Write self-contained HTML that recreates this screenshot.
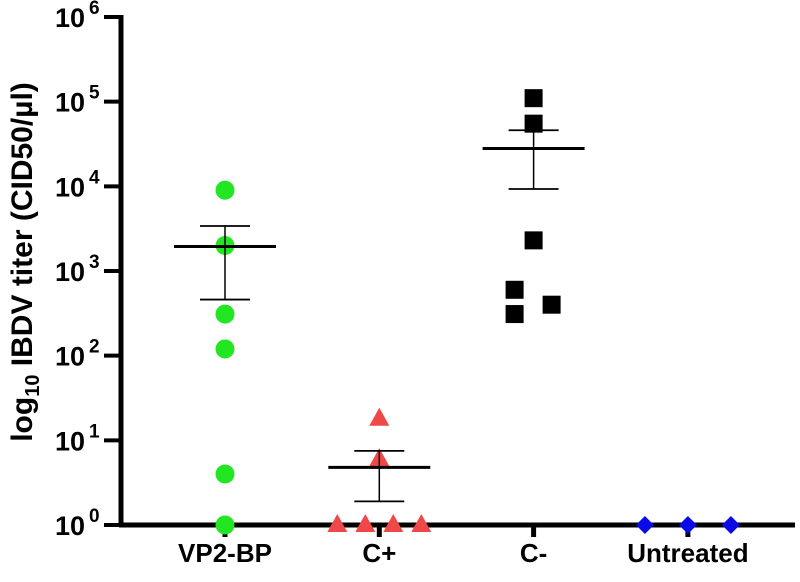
<!DOCTYPE html>
<html><head><meta charset="utf-8"><style>
body{margin:0;background:#fff}
text{font-family:"Liberation Sans",Arial,sans-serif;font-weight:bold;fill:#000}
</style></head><body>
<svg width="800" height="577" xmlns="http://www.w3.org/2000/svg">
<g id="axes"></g>
<g id="marks"></g>
</svg>
<script>
const categories=["VP2-BP","C+","C-","Untreated"];
const vp2Values=[9000,2000,310,120,4,1];
const vp2Offsets=[0,0,0,0,0,0];
const cposValues=[18,6,1,1,1,1];
const cposOffsets=[0,0,-42,-14,14,42];
const cnegValues=[110000,55000,2300,600,310,400];
const cnegOffsets=[0,0,0,-19,-19,18];
const untreatedValues=[1,1,1];
const untreatedOffsets=[-43,0,43];
const means=[1950,4.8,28000,1];
const semUpper=[3400,7.5,46000,null];
const semLower=[460,1.9,9300,null];
const yTickExps=[0,1,2,3,4,5,6];

const NS="http://www.w3.org/2000/svg";
const axes=document.getElementById('axes'),marks=document.getElementById('marks');
const x0=121,xEnd=795,yTop=17,yBot=525;
function yScale(v){return yBot-(yBot-yTop)*Math.log10(v)/6;}
function xScale(i){return 225+i*154.3;}
function mk(p,tag,attrs){const e=document.createElementNS(NS,tag);for(const k in attrs)e.setAttribute(k,attrs[k]);p.appendChild(e);return e;}

let l=mk(axes,'line',{x1:x0,y1:yTop-2,x2:x0,y2:yBot+2,stroke:'#000','stroke-width':5});


l=mk(axes,'line',{x1:x0-2,y1:yBot,x2:xEnd,y2:yBot,stroke:'#000','stroke-width':5});


yTickExps.forEach(e=>{
  const y=yScale(Math.pow(10,e));
  const t=mk(axes,'line',{x1:x0-17,y1:y,x2:x0,y2:y,stroke:'#000','stroke-width':4});
  
  
  const tx=mk(axes,'text',{x:55,y:y+10,'font-size':27});
  
  
  tx.innerHTML='10<tspan dx="4" dy="-13" font-size="19">'+e+'</tspan>';
});
categories.forEach((c,i)=>{
  const x=xScale(i);
  const t=mk(axes,'line',{x1:x,y1:yBot,x2:x,y2:yBot+12,stroke:'#000','stroke-width':5});
  
  
  const tx=mk(axes,'text',{x:x,y:562,'text-anchor':'middle','font-size':26});
  
  
  tx.textContent=c;
});
const yl=mk(axes,'text',{x:0,y:0,'text-anchor':'middle','font-size':30,transform:'translate(32,262) rotate(-90)'});


yl.innerHTML='log<tspan dy="7" font-size="20">10</tspan><tspan dy="-7"> IBDV titer (CID50/µl)</tspan>';

function drawPoint(shape,x,y,color){
  let e;
  if(shape==='circle') e=mk(marks,'circle',{cx:x,cy:y,r:9.5,fill:color});
  else if(shape==='tri') e=mk(marks,'polygon',{points:`${x},${y-11} ${x-10},${y+7} ${x+10},${y+7}`,fill:color});
  else if(shape==='square') e=mk(marks,'rect',{x:x-9,y:y-9,width:18,height:18,fill:color});
  else e=mk(marks,'polygon',{points:`${x},${y-9} ${x+9},${y} ${x},${y+9} ${x-9},${y}`,fill:color});
  
  
}
const groups=[[vp2Values,vp2Offsets,'circle','#22e622'],[cposValues,cposOffsets,'tri','#f04848'],[cnegValues,cnegOffsets,'square','#000'],[untreatedValues,untreatedOffsets,'diamond','#0a0ae6']];
groups.forEach((g,i)=>{
  g[0].forEach((v,j)=>drawPoint(g[2],xScale(i)+g[1][j],yScale(v),g[3]));
});
means.forEach((m,i)=>{
  if(semUpper[i]===null) return;
  const x=xScale(i);
  let e=mk(marks,'line',{x1:x,y1:yScale(semUpper[i]),x2:x,y2:yScale(semLower[i]),stroke:'#000','stroke-width':1.5});
  
  
  [semUpper[i],semLower[i]].forEach(v=>{
    const c=mk(marks,'line',{x1:x-25,y1:yScale(v),x2:x+25,y2:yScale(v),stroke:'#000','stroke-width':1.8});
    
    
  });
  e=mk(marks,'line',{x1:x-51,y1:yScale(m),x2:x+51,y2:yScale(m),stroke:'#000','stroke-width':3});
  
  
});
</script>
</body></html>
